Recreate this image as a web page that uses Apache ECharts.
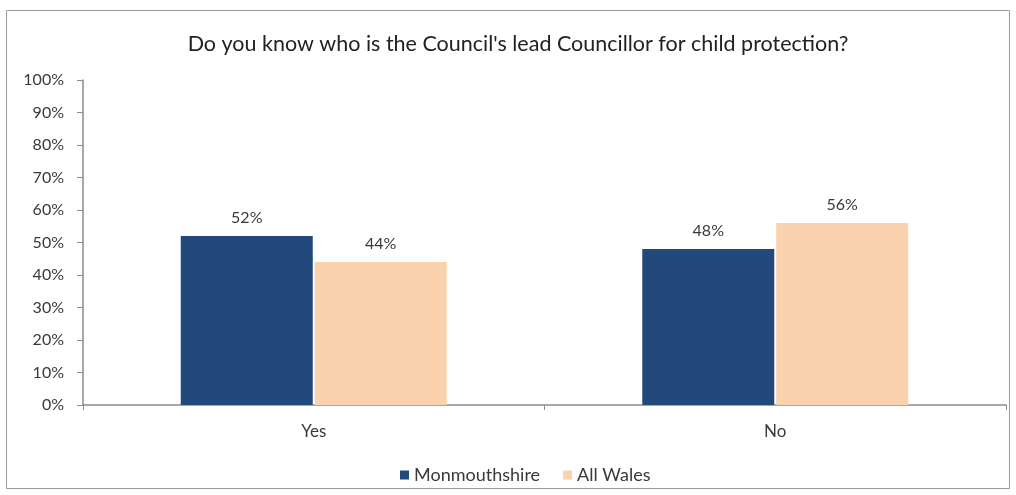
<!DOCTYPE html>
<html>
<head>
<meta charset="utf-8">
<script src="https://cdn.jsdelivr.net/npm/echarts@6/dist/echarts.min.js"></script>
<style>
  html, body { margin: 0; padding: 0; background: #fff; }
  #chart { width: 1016px; height: 495px; }
</style>
</head>
<body>
<div id="chart"></div>
<script>
// Survey answers and the share of respondents (%) per area
const categories = ['Yes', 'No'];
const monmouthshire = [52, 48];
const allWales = [44, 56];
const yTicks = [0, 10, 20, 30, 40, 50, 60, 70, 80, 90, 100];

const FONT = 'Lato, "Open Sans", sans-serif';
const TEXT = '#3a3a3a';

const chart = echarts.init(document.getElementById('chart'));
chart.setOption({
  animation: false,
  textStyle: { fontFamily: FONT, color: TEXT },
  title: {
    text: "Do you know who is the Council's lead Councillor for child protection?",
    left: 513,
    textAlign: 'center',
    top: 28,
    textStyle: { fontFamily: FONT, fontSize: 21.5, fontWeight: 'normal', color: '#222' }
  },
  graphic: [{
    type: 'rect',
    shape: { x: 6.5, y: 10.5, width: 1003, height: 478 },
    style: { fill: 'none', stroke: '#9a9a9a', lineWidth: 1 },
    silent: true
  }],
  legend: {
    top: 461,
    left: 395,
    itemWidth: 9,
    itemHeight: 9,
    itemGap: 23,
    icon: 'rect',
    textStyle: { fontFamily: FONT, fontSize: 18, color: TEXT },
    data: ['Monmouthshire', 'All Wales']
  },
  grid: { left: 83, right: 10, top: 80, bottom: 90, containLabel: false },
  xAxis: {
    type: 'category',
    data: categories,
    axisLine: { lineStyle: { color: '#8c8c8c', width: 1.5 } },
    axisTick: { show: true, alignWithLabel: false, length: 5, lineStyle: { color: '#8c8c8c' } },
    axisLabel: { fontSize: 17, color: TEXT, margin: 18, fontFamily: FONT }
  },
  yAxis: {
    type: 'value',
    min: yTicks[0],
    max: yTicks[yTicks.length - 1],
    interval: 10,
    axisLine: { show: true, lineStyle: { color: '#8c8c8c', width: 1.5 } },
    axisTick: { show: true, length: 6, lineStyle: { color: '#8c8c8c' } },
    splitLine: { show: false },
    axisLabel: { formatter: '{value}%', fontSize: 16, color: TEXT, margin: 19, fontFamily: FONT }
  },
  series: [
    {
      name: 'Monmouthshire',
      type: 'bar',
      data: monmouthshire,
      barWidth: 132,
      barGap: '1.5%',
      itemStyle: { color: '#23497c' },
      label: { show: true, position: 'top', distance: 10, formatter: '{c}%', fontSize: 16, color: TEXT, fontFamily: FONT }
    },
    {
      name: 'All Wales',
      type: 'bar',
      data: allWales,
      barWidth: 132,
      itemStyle: { color: '#fad2ae' },
      label: { show: true, position: 'top', distance: 10, formatter: '{c}%', fontSize: 16, color: TEXT, fontFamily: FONT }
    }
  ]
});
</script>
</body>
</html>
